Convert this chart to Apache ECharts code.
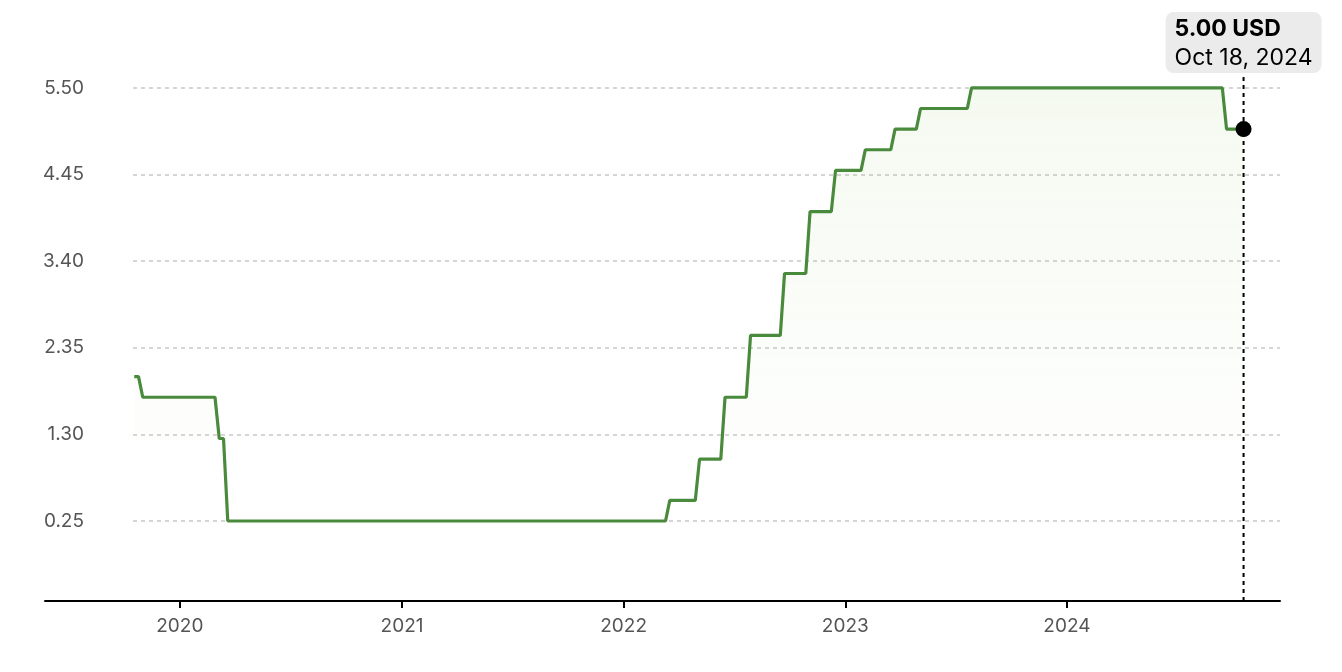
<!DOCTYPE html>
<html><head><meta charset="utf-8">
<script src="https://cdn.jsdelivr.net/npm/echarts@6/dist/echarts.min.js"></script>
<style>html,body{margin:0;padding:0;background:#fff}#c{width:1342px;height:672px}</style>
</head><body><div id="c"></div>
<script>
const dates = ['2019-10-18','2019-10-25','2019-11-01','2020-02-28','2020-03-06','2020-03-13','2020-03-20',
  '2022-03-11','2022-03-18','2022-04-29','2022-05-06','2022-06-10','2022-06-17','2022-07-22','2022-07-29',
  '2022-09-16','2022-09-23','2022-10-28','2022-11-04','2022-12-09','2022-12-16','2023-01-27','2023-02-03',
  '2023-03-17','2023-03-24','2023-04-28','2023-05-05','2023-07-21','2023-07-28','2024-09-13','2024-09-20','2024-10-18'];
const values = [2.00,2.00,1.75,1.75,1.25,1.25,0.25,
  0.25,0.50,0.50,1.00,1.00,1.75,1.75,2.50,
  2.50,3.25,3.25,4.00,4.00,4.50,4.50,4.75,
  4.75,5.00,5.00,5.25,5.25,5.50,5.50,5.00,5.00];
const yTicks = [0.25,1.30,2.35,3.40,4.45,5.50];
const xTicks = ['2020-01-01','2021-01-01','2022-01-01','2023-01-01','2024-01-01'];
const xMin = '2019-05-24', xMax = '2024-12-17';
const yMin = -0.72, yMax = 6.08;
const unit = 'USD';

const ts = s => new Date(s + 'T00:00:00Z').getTime();
const data = dates.map((d, i) => [ts(d), values[i]]);
const last = data[data.length - 1];
const months = ['Jan','Feb','Mar','Apr','May','Jun','Jul','Aug','Sep','Oct','Nov','Dec'];
const lastD = new Date(last[0]);
const lastLabel = months[lastD.getUTCMonth()] + ' ' + lastD.getUTCDate() + ', ' + lastD.getUTCFullYear();
const FONT = 'Inter, Liberation Sans, Arial, sans-serif';

const chart = echarts.init(document.getElementById('c'));
chart.setOption({
  animation: false,
  grid: {left: 45, right: 62, top: 40, bottom: 71},
  xAxis: {
    type: 'value', min: ts(xMin), max: ts(xMax),
    axisLine: {show: true, onZero: false, lineStyle: {color: '#000', width: 2}},
    axisTick: {show: true, length: 7, lineStyle: {color: '#000', width: 2}, customValues: xTicks.map(ts)},
    axisLabel: {customValues: xTicks.map(ts), color: '#555', fontSize: 19, fontFamily: FONT, margin: 16,
      formatter: v => String(new Date(v).getUTCFullYear())},
    splitLine: {show: false}
  },
  yAxis: {
    type: 'value', min: yMin, max: yMax,
    axisLine: {show: false}, axisTick: {show: false},
    splitLine: {show: false},
    axisLabel: {customValues: yTicks, color: '#555', fontSize: 19, fontFamily: FONT, margin: -39, align: 'right',
      formatter: v => v.toFixed(2)}
  },
  series: [
    {
      type: 'line', data: data, showSymbol: false, symbol: 'none',
      lineStyle: {color: '#4a8a3c', width: 3.2},
      areaStyle: {origin: 'start', color: new echarts.graphic.LinearGradient(0, 0, 0, 1, [
        {offset: 0, color: 'rgba(140,195,95,0.13)'},
        {offset: 0.68, color: 'rgba(140,195,95,0.025)'},
        {offset: 0.7, color: 'rgba(140,195,95,0)'},
        {offset: 1, color: 'rgba(140,195,95,0)'}
      ])},
      z: 4,
      markLine: {
        silent: true, symbol: 'none', z: 1, animation: false,
        label: {show: false},
        data: yTicks.map(v => [{coord: [data[0][0] - 2 * 86400000, v]}, {coord: [ts(xMax), v]}]),
        lineStyle: {color: '#c8c8c8', type: [4, 4], width: 1.5}
      }
    },
    {
      type: 'line', data: [[last[0], yMin], [last[0], yMax]], symbol: 'none', silent: true,
      lineStyle: {color: '#000', width: 2, type: [4, 4]}, z: 5
    },
    {
      type: 'scatter', data: [last], symbol: 'circle', symbolSize: 16,
      itemStyle: {color: '#000', opacity: 1}, z: 6,
      markPoint: {
        symbol: 'circle', symbolSize: 0, z: 10,
        data: [{coord: last}],
        label: {
          show: true, position: 'inside', offset: [0, -86.5],
          backgroundColor: '#ebebeb', borderRadius: 8, padding: [2, 9, 1, 9],
          formatter: () => '{a|' + last[1].toFixed(2) + ' ' + unit + '}\n{b|' + lastLabel + '}',
          rich: {
            a: {fontSize: 23, fontWeight: 'bold', color: '#000', fontFamily: FONT, lineHeight: 29, align: 'left'},
            b: {fontSize: 23, color: '#000', fontFamily: FONT, lineHeight: 29, align: 'left'}
          }
        }
      }
    }
  ]
});
</script></body></html>
